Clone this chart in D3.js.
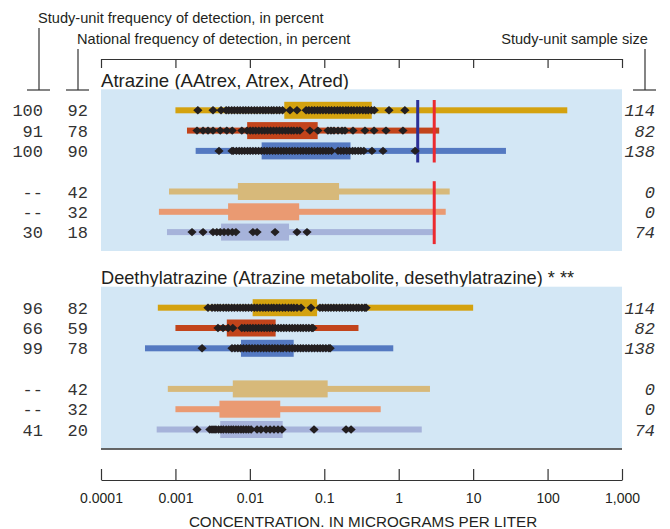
<!DOCTYPE html>
<html>
<head>
<meta charset="utf-8">
<script src="https://cdn.jsdelivr.net/npm/d3@7"></script>
<style>
  html, body { margin: 0; padding: 0; background: #fff; }
  svg { display: block; }
  .sans { font-family: "Liberation Sans", Arial, Helvetica, sans-serif; fill: #231f20; }
  .mono { font-family: "Liberation Mono", "DejaVu Sans Mono", monospace; fill: #333; }
</style>
</head>
<body>
<svg id="chart" width="670" height="529"></svg>
<script>
// ---- Data -------------------------------------------------------------
const tickValues = [0.0001, 0.001, 0.01, 0.1, 1, 10, 100, 1000];
const tickLabels = ["0.0001", "0.001", "0.01", "0.1", "1", "10", "100", "1,000"];

const panelTitles = [
  "Atrazine (AAtrex, Atrex, Atred)",
  "Deethylatrazine (Atrazine metabolite, desethylatrazine) * **"
];

// Frequencies of detection (percent) and study-unit sample sizes, per row
const atrazineStudyFreq = ["100", "91", "100", "--", "--", "30"];
const atrazineNationalFreq = ["92", "78", "90", "42", "32", "18"];
const atrazineSampleSize = ["114", "82", "138", "0", "0", "74"];

const deethylStudyFreq = ["96", "66", "99", "--", "--", "41"];
const deethylNationalFreq = ["82", "59", "78", "42", "32", "20"];
const deethylSampleSize = ["114", "82", "138", "0", "0", "74"];

// Concentration ranges (micrograms per liter): whisker ends and box ends
const atrazineMin = [0.001, 0.00143, 0.00187, 0.00082, 0.0006, 0.00077];
const atrazineMax = [184, 3.5, 27.6, 4.84, 4.28, 3];
const atrazineBoxLow = [0.029, 0.0092, 0.0144, 0.0069, 0.0051, 0.0041];
const atrazineBoxHigh = [0.434, 0.0815, 0.225, 0.158, 0.046, 0.0336];

const deethylMin = [0.00058, 0.001, 0.00039, 0.00079, 0.001, 0.00056];
const deethylMax = [10, 0.288, 0.845, 2.63, 0.573, 2.04];
const deethylBoxLow = [0.0109, 0.0049, 0.0076, 0.0059, 0.0039, 0.004];
const deethylBoxHigh = [0.08, 0.0222, 0.0388, 0.111, 0.0256, 0.0276];

// Detected concentrations in study-unit samples
const atrazineDetections = [
  [0.002, 0.0032, 0.0041,
   0.0048, 0.0052, 0.0057, 0.0062, 0.0068, 0.0074, 0.0081, 0.0088, 0.0096, 0.0105,
   0.0115, 0.0125, 0.0137, 0.015, 0.0163, 0.0178, 0.0195, 0.021, 0.023, 0.025, 0.0275,
   0.0346, 0.043,
   0.057, 0.062, 0.068, 0.074, 0.081, 0.088, 0.096, 0.105, 0.115, 0.125, 0.137, 0.15,
   0.163, 0.178, 0.195, 0.21, 0.23, 0.25, 0.275, 0.3, 0.33, 0.36, 0.39, 0.43, 0.47,
   0.74, 1.21],
  [0.00195, 0.00235, 0.00274, 0.0032, 0.004, 0.0049, 0.0058, 0.0078, 0.0092,
   0.0101, 0.011, 0.012, 0.0132, 0.0145, 0.0158, 0.0173, 0.019, 0.0208, 0.0228, 0.025,
   0.0273, 0.03, 0.0328, 0.036, 0.039, 0.043, 0.047,
   0.064, 0.082, 0.112, 0.123, 0.135, 0.153, 0.173, 0.19, 0.243, 0.352, 0.466, 0.675, 1.14],
  [0.00385, 0.00575,
   0.006, 0.0066, 0.0072, 0.0078, 0.0085, 0.0093, 0.0101, 0.011, 0.012, 0.0131, 0.0143,
   0.0156, 0.017, 0.0185, 0.0202, 0.022, 0.024, 0.0262, 0.0285, 0.031, 0.034, 0.037,
   0.0403, 0.044, 0.048, 0.052, 0.057, 0.062, 0.068, 0.074, 0.081, 0.088, 0.096, 0.105,
   0.114, 0.125,
   0.153, 0.167, 0.182, 0.2, 0.218, 0.24, 0.26, 0.285, 0.31, 0.34,
   0.437, 0.615, 1.66],
  [],
  [],
  [0.00167, 0.00235, 0.0032, 0.0036, 0.004, 0.0045, 0.0051, 0.0058, 0.0065,
   0.011, 0.0125, 0.0218, 0.043, 0.0586]
];

const deethylDetections = [
  [0.00274,
   0.0031, 0.0034, 0.0037, 0.004, 0.0044, 0.0048, 0.0052, 0.0057, 0.0062, 0.0068, 0.0074,
   0.0081, 0.0088, 0.0096, 0.0105, 0.0115, 0.0125, 0.0137, 0.015, 0.0163, 0.0178, 0.0195,
   0.021, 0.023, 0.025, 0.0275, 0.03, 0.033, 0.036, 0.039, 0.043,
   0.0487, 0.0663,
   0.0875, 0.095, 0.104, 0.113, 0.123, 0.134, 0.146, 0.16, 0.174, 0.19, 0.207, 0.225,
   0.245, 0.27, 0.29, 0.32, 0.35, 0.365],
  [0.00373, 0.00436, 0.0051, 0.0059,
   0.0078, 0.0085, 0.0093, 0.0101, 0.011, 0.012, 0.0131, 0.0143, 0.0156, 0.017, 0.0185,
   0.0202, 0.022, 0.024, 0.0262, 0.0285, 0.031, 0.034, 0.037, 0.0403, 0.044, 0.048,
   0.052, 0.057, 0.062, 0.068, 0.0705],
  [0.00228, 0.00575,
   0.0063, 0.0069, 0.0075, 0.0082, 0.009, 0.0098, 0.0107, 0.0117, 0.0128, 0.014, 0.0153,
   0.0167, 0.0182, 0.0199, 0.0217, 0.0237, 0.026, 0.028, 0.031, 0.034, 0.037, 0.0403,
   0.044, 0.048, 0.052, 0.057, 0.062, 0.068, 0.074, 0.081, 0.088, 0.096, 0.105, 0.115, 0.12],
  [],
  [],
  [0.00195,
   0.0029, 0.0031, 0.0033, 0.0035, 0.0038, 0.0041, 0.0044, 0.0048, 0.0052, 0.0056, 0.006,
   0.0065, 0.007, 0.0076, 0.0082, 0.0089, 0.0096, 0.0104,
   0.0125, 0.0141, 0.0165, 0.0187, 0.0211, 0.0239, 0.027,
   0.0728, 0.196, 0.229]
];

// Benchmark lines (micrograms per liter)
const mclValue = 3;
const hbslValue = 1.8;

// ---- Styling ------------------------------------------------------------
const rowColors = ["#d4a20f", "#c2441b", "#5479c1", "#d7b97a", "#ea9a72", "#a6b3da"];
const panelFill = "#d3e7f5";

const svg = d3.select("#chart");
const x = d3.scaleLog().domain([1e-4, 1e3]).range([101, 622]);

// row slots: three rows, a two-slot gap, three rows
const rowSlot = [0, 1, 2, 4, 5, 6];
const rowStep = 20.3;

// ---- Header -------------------------------------------------------------
svg.append("text").attr("class", "sans").attr("x", 38).attr("y", 23)
  .style("font-size", "14.6px").text("Study-unit frequency of detection, in percent");
svg.append("text").attr("class", "sans").attr("x", 77).attr("y", 44)
  .style("font-size", "14.6px").text("National frequency of detection, in percent");
svg.append("text").attr("class", "sans").attr("x", 648).attr("y", 44)
  .attr("text-anchor", "end")
  .style("font-size", "14.6px").text("Study-unit sample size");

const bracket = d3.line();
const bracketStyle = sel => sel.attr("fill", "none").attr("stroke", "#333").attr("stroke-width", 1.2);
svg.append("path").attr("d", bracket([[39, 28], [39, 90]])).call(bracketStyle);
svg.append("path").attr("d", bracket([[27, 90], [50, 90]])).call(bracketStyle);
svg.append("path").attr("d", bracket([[78, 49], [78, 90]])).call(bracketStyle);
svg.append("path").attr("d", bracket([[66, 90], [89, 90]])).call(bracketStyle);
svg.append("path").attr("d", bracket([[645, 49], [645, 90]])).call(bracketStyle);
svg.append("path").attr("d", bracket([[633, 90], [656, 90]])).call(bracketStyle);

// top ruler with decade ticks
const topAxis = svg.append("g").attr("transform", "translate(0,59)")
  .call(d3.axisBottom(x).tickValues(tickValues).tickSize(9).tickSizeOuter(0).tickFormat(""));
topAxis.select(".domain").attr("stroke", "#333").attr("stroke-width", 1.2);
topAxis.selectAll(".tick line").attr("stroke", "#333").attr("stroke-width", 1.2);

// ---- Panels -------------------------------------------------------------
const panels = [
  { top: 89.3, title: panelTitles[0], titleSize: 18.6, study: atrazineStudyFreq,
    nat: atrazineNationalFreq, n: atrazineSampleSize, lo: atrazineMin, hi: atrazineMax,
    q1: atrazineBoxLow, q3: atrazineBoxHigh, dots: atrazineDetections, lines: true },
  { top: 286.7, title: panelTitles[1], titleSize: 18.2, study: deethylStudyFreq,
    nat: deethylNationalFreq, n: deethylSampleSize, lo: deethylMin, hi: deethylMax,
    q1: deethylBoxLow, q3: deethylBoxHigh, dots: deethylDetections, lines: false }
];

const panelHeight = 161.7;
const diamond = "M-4.6,0L0,-4.2L4.6,0L0,4.2Z";

panels.forEach(p => {
  const g = svg.append("g");
  const rowY = i => p.top + 21 + rowSlot[i] * rowStep;

  g.append("text").attr("class", "sans").attr("x", 101).attr("y", p.top - 2.5)
    .style("font-size", p.titleSize + "px").text(p.title);

  g.append("rect").attr("x", x(1e-4)).attr("y", p.top)
    .attr("width", x(1e3) - x(1e-4)).attr("height", panelHeight)
    .attr("fill", panelFill);

  d3.range(6).forEach(i => {
    const y = rowY(i);
    // whisker
    g.append("rect").attr("x", x(p.lo[i])).attr("y", y - 3)
      .attr("width", x(p.hi[i]) - x(p.lo[i])).attr("height", 6)
      .attr("fill", rowColors[i]);
    // box
    g.append("rect").attr("x", x(p.q1[i])).attr("y", y - 8.5)
      .attr("width", x(p.q3[i]) - x(p.q1[i])).attr("height", 17)
      .attr("fill", rowColors[i]);

    g.append("text").attr("class", "mono").attr("x", 43).attr("y", y)
      .attr("dy", "0.36em").attr("text-anchor", "end")
      .style("font-size", "17px").text(p.study[i]);
    g.append("text").attr("class", "mono").attr("x", 88).attr("y", y)
      .attr("dy", "0.36em").attr("text-anchor", "end")
      .style("font-size", "17px").text(p.nat[i]);
    g.append("text").attr("class", "mono").attr("x", 655).attr("y", y)
      .attr("dy", "0.36em").attr("text-anchor", "end")
      .style("font-size", "17px").style("font-style", "italic").text(p.n[i]);
  });

  if (p.lines) {
    g.append("line").attr("x1", x(hbslValue)).attr("x2", x(hbslValue))
      .attr("y1", rowY(0) - 10.3).attr("y2", rowY(2) + 11.6)
      .attr("stroke", "#2b2f97").attr("stroke-width", 3);
    g.append("line").attr("x1", x(mclValue)).attr("x2", x(mclValue))
      .attr("y1", rowY(0) - 10.3).attr("y2", rowY(2) + 11.6)
      .attr("stroke", "#ec2a30").attr("stroke-width", 3);
    g.append("line").attr("x1", x(mclValue)).attr("x2", x(mclValue))
      .attr("y1", rowY(3) - 10.3).attr("y2", rowY(5) + 12)
      .attr("stroke", "#ec2a30").attr("stroke-width", 3);
  }

  p.dots.forEach((vals, i) => {
    g.selectAll(null).data(vals).enter().append("path")
      .attr("d", diamond)
      .attr("transform", d => `translate(${x(d)},${rowY(i)})`)
      .attr("fill", "#231f20");
  });
});

// ---- Bottom axis ----------------------------------------------------------
svg.append("line").attr("x1", x(1e-4)).attr("x2", x(1e3))
  .attr("y1", 449).attr("y2", 449).attr("stroke", "#333").attr("stroke-width", 1.6);

const bottomAxis = svg.append("g").attr("transform", "translate(0,480)")
  .call(d3.axisBottom(x).tickValues(tickValues).tickSize(-11).tickSizeOuter(0)
    .tickPadding(13).tickFormat((d, i) => tickLabels[i]));
bottomAxis.select(".domain").attr("stroke", "#333").attr("stroke-width", 1.2);
bottomAxis.selectAll(".tick line").attr("stroke", "#333").attr("stroke-width", 1.2);
bottomAxis.selectAll(".tick text")
  .attr("class", "sans").style("font-size", "14px");

svg.append("text").attr("class", "sans").attr("x", 363).attr("y", 527)
  .attr("text-anchor", "middle").style("font-size", "15.2px")
  .text("CONCENTRATION. IN MICROGRAMS PER LITER");
</script>
</body>
</html>
